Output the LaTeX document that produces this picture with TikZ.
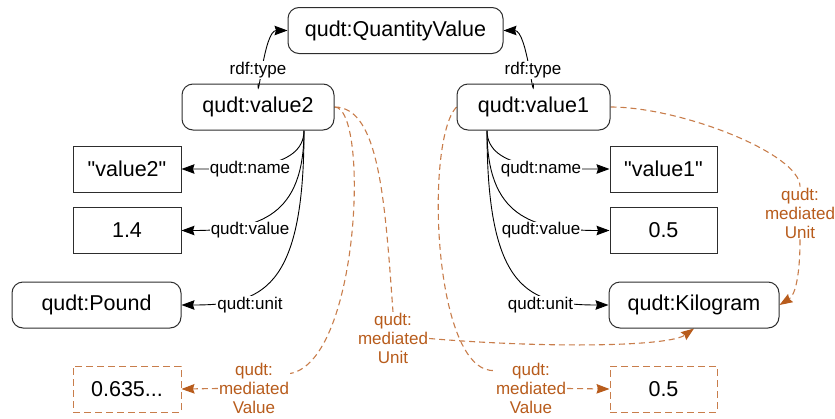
\documentclass[tikz,border=0pt]{standalone}
\usepackage{fontspec}
\setmainfont{Liberation Sans}
% a family without the TeX ligature mapping keeps straight double quotes
\newfontfamily\plainsans{Liberation Sans}
\usetikzlibrary{arrows.meta,backgrounds}
\definecolor{rust}{RGB}{184,92,28}
\definecolor{rustline}{RGB}{200,125,75}
\definecolor{framegray}{RGB}{45,45,45}

\begin{document}
\begin{tikzpicture}[x=1pt,y=-1pt,
  box/.style={draw=framegray,line width=1pt,minimum height=46pt,inner sep=0pt,
              font=\plainsans\fontsize{21.5}{24}\selectfont},
  rbox/.style={box,rounded corners=11pt},
  dbox/.style={box,draw=rustline,dash pattern=on 7pt off 4pt},
  lbl/.style={fill=white,inner sep=1pt,font=\plainsans\fontsize{17}{19}\selectfont},
  olbl/.style={lbl,text=rust,align=center},
  rel/.style={line width=0.9pt,-{Stealth[length=13pt,width=9.5pt,inset=1.5pt]}},
  med/.style={draw=rustline,line width=1.1pt,dash pattern=on 6pt off 4pt},
  medarrow/.style={med,-{Stealth[length=13pt,width=9.5pt,inset=1.5pt,color=rust]}},
]
\useasboundingbox (0,0) rectangle (835,418);

% resources
\node[rbox,minimum width=215pt] (qv) at (395.5,30.5) {qudt:QuantityValue};
\node[rbox,minimum width=152pt] (v2) at (258,107) {qudt:value2};
\node[rbox,minimum width=153pt] (v1) at (533.5,107) {qudt:value1};

\node[box,minimum width=108pt]  (n2) at (127,169)   {"value2"};
\node[box,minimum width=108pt]  (x2) at (127,230.5) {1.4};
\node[rbox,minimum width=169pt] (pd) at (96.5,305)  {qudt:Pound};
\node[dbox,minimum width=108pt] (m2) at (127,389)   {0.635...};

\node[box,minimum width=107pt]  (n1) at (663.5,169)   {"value1"};
\node[box,minimum width=107pt]  (x1) at (663.5,230.5) {0.5};
\node[rbox,minimum width=170pt] (kg) at (694,305)     {qudt:Kilogram};
\node[dbox,minimum width=107pt] (m1) at (663.5,389)   {0.5};

% property labels
\node[lbl] (t2)  at (258,70)    {rdf:type};
\node[lbl] (t1)  at (533,70)    {rdf:type};
\node[lbl] (ln2) at (250,169)   {qudt:name};
\node[lbl] (lv2) at (250,230.5) {qudt:value};
\node[lbl] (lu2) at (250,305)   {qudt:unit};
\node[lbl] (ln1) at (541,169)   {qudt:name};
\node[lbl] (lv1) at (541,230.5) {qudt:value};
\node[lbl] (lu1) at (540.5,305) {qudt:unit};

\node[olbl] (mu2) at (393,338.5) {qudt:\\mediated\\Unit};
\node[olbl] (mv2) at (254,388.5) {qudt:\\mediated\\Value};
\node[olbl] (mv1) at (531,388.5) {qudt:\\mediated\\Value};
\node[olbl] (mu1) at (800,213)   {qudt:\\mediated\\Unit};

\coordinate (v2b) at ([xshift=46pt]v2.south);
\coordinate (v1b) at ([xshift=-46.5pt]v1.south);

\begin{pgfonlayer}{background}
  % rdf:type
  \draw[rel] (v2.north) to[out=-90,in=180] (qv.west);
  \draw[rel] (v1.north) to[out=-90,in=0] (qv.east);

  % asserted properties of value2
  \draw[rel] (v2b) .. controls +(0,40)  and +(55,0) .. (n2.east);
  \draw[rel] (v2b) .. controls +(0,85)  and +(79,0) .. (x2.east);
  \draw[rel] (v2b) .. controls +(0,160) and +(80,0) .. (pd.east);

  % asserted properties of value1
  \draw[rel] (v1b) .. controls +(0,40)  and +(-55,0) .. (n1.west);
  \draw[rel] (v1b) .. controls +(0,85)  and +(-79,0) .. (x1.west);
  \draw[rel] (v1b) .. controls +(0,160) and +(-80,0) .. (kg.west);

  % mediated properties of value2
  \draw[med] (v2.east) .. controls +(45,0) and +(-8,-110) .. (mu2.north);
  \draw[medarrow] (mu2.east) .. controls +(120,10) and +(-25,18) .. (kg.south);
  \draw[med] (v2.east) .. controls +(35,0) and +(70,-13) .. ([yshift=15pt]mv2.east);
  \draw[medarrow] (mv2.west) -- (m2.east);

  % mediated properties of value1
  \draw[med] (v1.west) .. controls +(-32,33) and +(-62,4) .. ([yshift=18pt]mv1.west);
  \draw[medarrow] (mv1.east) -- (m1.west);
  \draw[med] (v1.east) .. controls +(70,0) and +(0,-33) .. (mu1.north);
  \draw[medarrow] (mu1.south) .. controls +(0,35) and +(16,-10) .. (kg.east);
\end{pgfonlayer}
\end{tikzpicture}
\end{document}
